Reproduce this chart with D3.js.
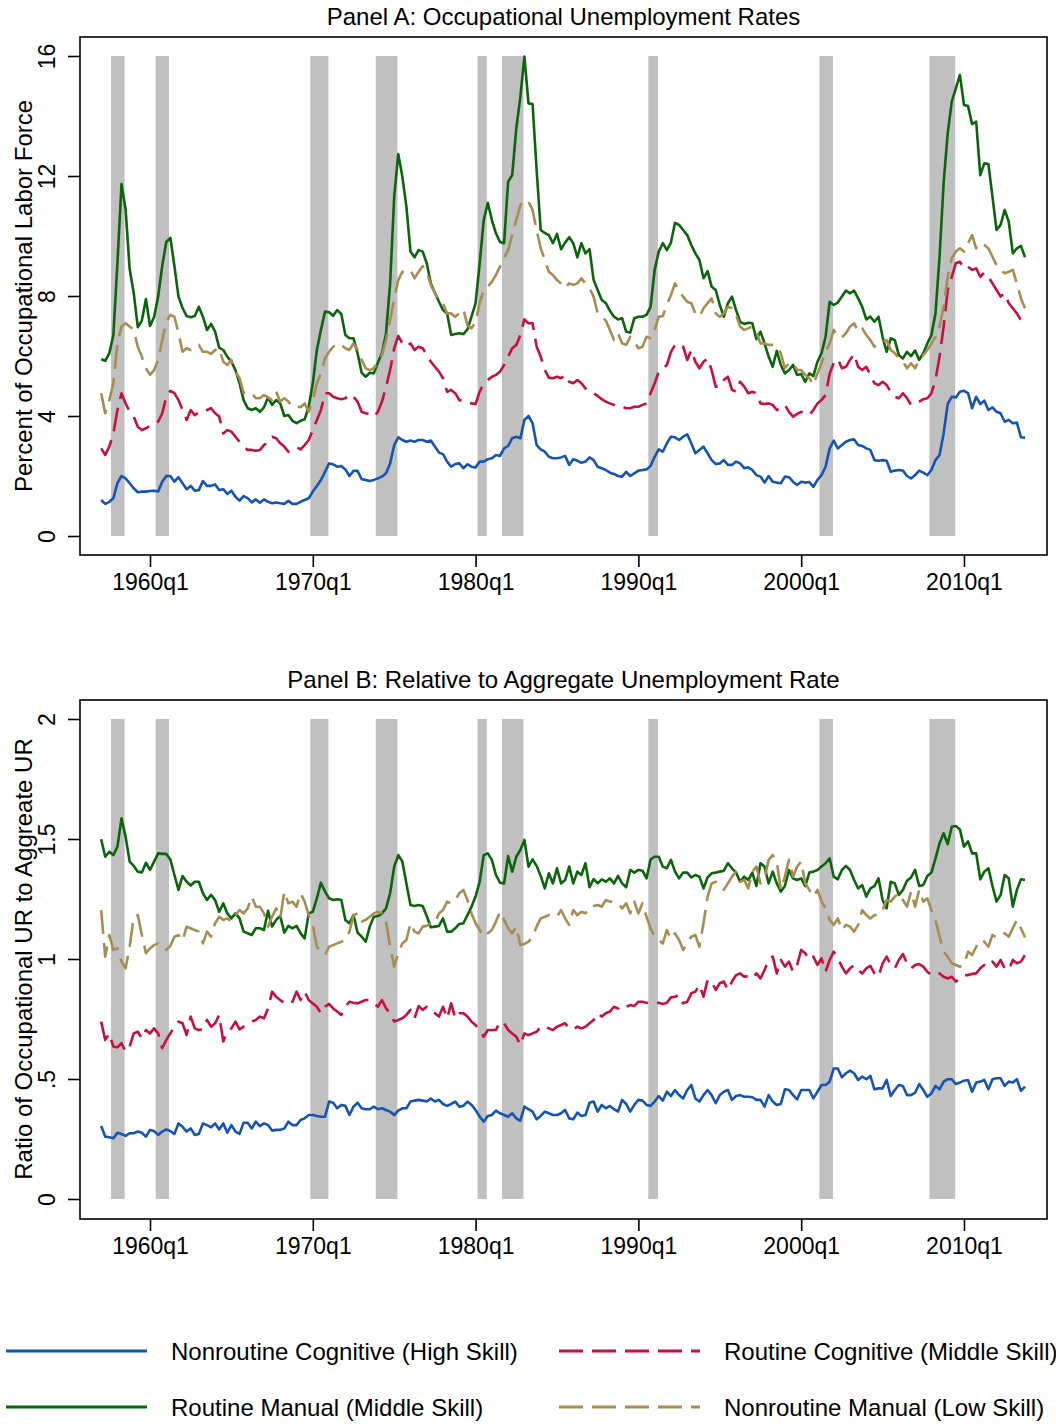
<!DOCTYPE html>
<html><head><meta charset="utf-8">
<script src="https://cdn.jsdelivr.net/npm/d3@7"></script>
<style>
body{margin:0;background:#fff}
svg{display:block}
text{font-family:"Liberation Sans",Arial,Helvetica,sans-serif;fill:#000}
</style>
</head><body>
<svg id="chart" width="1056" height="1424"></svg>
<script>
// ---------------- DATA ----------------
const startYear = 1957; // first observation 1957q1, quarterly through 2013q4
const seriesLabels = ["Nonroutine Cognitive (High Skill)", "Routine Cognitive (Middle Skill)", "Routine Manual (Middle Skill)", "Nonroutine Manual (Low Skill)"];
const xTickYears = [1960, 1970, 1980, 1990, 2000, 2010];
const xTickLabels = ["1960q1", "1970q1", "1980q1", "1990q1", "2000q1", "2010q1"];
const yTicksA = [0, 4, 8, 12, 16];
const yTickLabelsA = ["0", "4", "8", "12", "16"];
const yTicksB = [0, 0.5, 1, 1.5, 2];
const yTickLabelsB = ["0", ".5", "1", "1.5", "2"];
const recessionStart = [1957.60, 1960.35, 1969.85, 1973.87, 1980.12, 1981.62, 1990.61, 2001.12, 2007.88];
const recessionEnd   = [1958.44, 1961.17, 1970.96, 1975.20, 1980.69, 1982.94, 1991.20, 2001.96, 2009.46];

// Panel A: occupational unemployment rates (percent)
const nonroutineCognitiveA = [
1.2,1.07,1.14,1.26,1.76,2.0,1.92,1.76,1.59,1.46, 1.48,1.48,1.5,1.51,1.48,1.81,2.0,2.0,1.81,1.96,
1.76,1.56,1.67,1.51,1.53,1.83,1.67,1.67,1.72,1.53, 1.56,1.4,1.51,1.31,1.18,1.33,1.26,1.12,1.22,1.11,
1.22,1.14,1.09,1.12,1.09,1.07,1.17,1.07,1.07,1.14, 1.2,1.26,1.48,1.67,1.87,2.14,2.42,2.39,2.31,2.33,
2.22,2.0,2.17,2.17,1.89,1.87,1.83,1.87,1.92,1.98, 2.09,2.42,3.03,3.29,3.2,3.14,3.18,3.14,3.2,
3.2,3.14,3.18,2.98,2.78,2.73,2.48,2.31,2.4,2.42, 2.26,2.39,2.31,2.28,2.48,2.48,2.56,2.59,2.7,2.67,
2.92,3.0,3.26,3.31,3.26,3.87,4.0,3.76,3.03,2.89, 2.81,2.64,2.59,2.59,2.62,2.67,2.37,2.56,2.51,2.44,
2.48,2.62,2.53,2.31,2.26,2.2,2.11,2.07,2.0,1.98, 2.14,2.0,2.09,2.18,2.2,2.22,2.33,2.64,2.89,2.81,
3.09,3.31,3.29,3.2,3.31,3.39,3.09,2.76,2.87,2.98, 2.76,2.53,2.4,2.42,2.53,2.37,2.37,2.48,
2.42,2.26,2.29,2.2,2.03,1.98,1.78,2.0,1.81,1.78, 1.76,1.98,1.96,1.81,1.7,1.81,1.78,1.8,1.64,1.87,
2.03,2.31,2.92,3.18,2.92,3.03,3.14,3.2,3.22,3.03, 3.0,2.92,2.87,2.53,2.51,2.53,2.51,2.14,2.18,2.2,
2.18,2.0,1.92,2.03,2.18,2.11,2.03,2.2,2.53,2.7, 3.42,4.4,4.64,4.62,4.81,4.84,4.76,4.26,4.64,4.4,
4.51,4.2,4.29,4.14,4.09,3.81,3.87,3.76,3.78,3.29, 3.28];
const routineCognitiveA = [
2.92,2.7,2.98,3.42,4.2,4.76,4.42,4.14,3.98,3.64, 3.53,3.59,3.67,3.7,3.81,4.09,4.64,4.84,4.76,4.53,
4.2,3.87,4.2,4.03,4.11,4.11,4.2,4.26,4.09,3.98, 3.42,3.53,3.48,3.31,3.14,2.98,2.87,2.87,2.84,2.87,
3.03,3.14,3.31,3.26,3.09,2.98,2.81,2.89,2.96,2.89, 3.03,3.2,3.53,3.87,4.2,4.76,4.76,4.64,4.59,4.56,
4.59,4.73,4.64,4.48,4.14,4.09,4.07,3.98,4.14,4.48, 4.98,5.53,6.26,6.67,6.42,6.31,6.42,6.2,6.31,
6.26,6.03,5.81,5.64,5.48,5.26,4.81,4.87,4.76,4.53, 4.51,4.44,4.42,4.4,4.81,5.09,5.2,5.31,5.37,5.48,
5.7,5.98,6.26,6.37,6.7,7.22,7.09,7.09,6.31,5.98, 5.53,5.28,5.26,5.31,5.26,5.37,5.14,5.09,5.2,5.09,
4.92,4.81,4.76,4.67,4.56,4.48,4.42,4.37,4.31,4.31, 4.26,4.26,4.31,4.31,4.37,4.42,4.76,5.09,5.48,5.59,
5.7,6.14,6.37,6.42,6.31,5.87,6.2,5.81,5.59,5.81, 5.92,5.53,4.98,4.98,5.2,5.31,4.87,4.81,
5.14,4.98,4.76,4.81,4.76,4.42,4.4,4.42,4.37,4.2, 4.26,4.37,4.14,3.98,4.07,4.14,4.09,4.03,4.2,4.42,
4.53,4.7,5.42,5.76,5.9,5.59,5.64,5.87,6.07,5.64, 5.53,5.64,5.37,5.09,5.03,5.14,5.03,4.81,4.64,4.59,
4.76,4.59,4.37,4.42,4.48,4.56,4.59,4.76,5.2,5.98, 6.98,8.2,8.64,9.09,9.14,8.92,8.98,8.87,8.92,8.64,
8.78,8.64,8.42,8.2,7.98,8.09,7.76,7.59,7.42,7.2, 7.07];
const routineManualA = [
5.89,5.84,6.09,6.7,9.1,11.73,10.9,8.9,8.1,6.96, 7.18,7.9,7.0,7.3,7.98,9.0,9.8,9.94,9.0,7.98,
7.6,7.33,7.29,7.33,7.64,7.31,6.87,7.07,6.81,6.28, 6.2,5.98,5.81,5.53,5.09,4.53,4.26,4.2,4.26,4.14,
4.29,4.62,4.37,4.53,4.42,4.0,4.03,3.84,3.76,3.84, 3.89,4.31,5.09,6.2,6.87,7.48,7.46,7.34,7.53,7.4,
6.7,6.59,6.59,6.09,5.44,5.31,5.44,5.42,5.78,6.09, 6.76,8.42,11.3,12.73,11.98,10.98,9.48,9.29,9.53,
9.48,9.09,8.42,8.11,7.81,7.53,7.42,6.7,6.73,6.76, 6.73,6.89,7.31,7.76,9.09,10.53,11.11,10.53,10.09,9.8,
9.76,11.81,12.03,13.59,14.64,15.98,14.42,14.4,12.2,10.2, 10.1,10.03,9.76,10.07,9.56,9.78,9.96,9.76,9.29,9.76,
9.42,9.56,8.53,8.2,7.87,7.76,7.51,7.31,7.22,7.26, 6.81,6.78,7.26,7.31,7.31,7.37,7.64,8.87,9.48,9.76,
9.53,9.78,10.44,10.37,10.2,10.03,9.7,9.42,9.2,8.59, 8.83,8.31,8.2,7.7,7.31,7.76,7.98,7.53,
7.14,7.07,7.11,7.09,6.56,6.81,6.42,5.98,5.64,6.17, 5.7,5.42,5.53,5.7,5.37,5.4,5.14,5.42,5.33,5.81,
6.09,6.64,7.81,7.7,7.78,7.98,8.18,8.09,8.18,7.92, 7.64,7.22,7.31,7.14,7.31,6.64,6.14,6.59,6.53,6.03,
5.92,6.14,6.0,6.18,5.87,6.09,6.42,6.7,7.42,9.31, 11.76,13.42,14.48,14.92,15.37,14.37,14.33,13.73,13.81,12.03,
12.42,12.4,11.31,10.2,10.37,10.87,10.48,9.42,9.59,9.67, 9.29];
const nonroutineManualA = [
4.76,4.09,4.53,5.09,6.42,6.98,7.09,6.98,6.87,6.31, 5.98,5.59,5.37,5.53,5.87,6.53,7.14,7.37,7.31,6.76,
6.14,6.26,6.2,6.29,6.37,6.14,6.14,6.07,6.2,6.26, 5.81,5.7,5.87,5.48,5.26,4.76,4.81,4.76,4.59,4.59,
4.7,4.62,4.53,4.81,4.48,4.59,4.48,4.31,4.33,4.29, 4.42,4.14,4.53,5.09,5.42,5.92,6.14,6.31,6.42,6.37,
6.26,6.2,6.42,6.2,5.87,5.59,5.53,5.59,5.81,6.03, 6.53,7.2,7.92,8.53,8.81,8.81,8.87,8.59,8.81,
9.0,8.81,8.37,8.09,7.87,7.76,7.42,7.42,7.31,7.42, 7.56,7.03,6.92,7.14,7.76,8.2,8.31,8.48,8.7,8.98,
9.26,9.53,10.03,10.53,11.03,11.2,11.14,10.87,10.2,9.59, 9.2,8.81,8.7,8.53,8.42,8.26,8.42,8.37,8.42,8.59,
8.42,8.26,7.98,7.42,7.31,7.18,6.87,6.53,6.76,6.42, 6.37,6.64,6.48,6.26,6.31,6.64,6.59,6.87,7.31,7.33,
7.7,8.03,8.42,8.14,7.98,7.81,7.76,7.42,7.31,7.59, 7.76,7.92,7.42,7.31,7.42,7.64,7.59,7.37,
6.98,6.87,6.92,6.98,6.81,6.42,6.42,6.37,6.37,6.33, 6.09,5.59,5.76,5.76,5.53,5.53,5.37,5.26,5.03,5.42,
5.76,6.14,6.42,6.87,6.64,6.62,6.76,6.98,7.09,6.81, 6.92,6.7,6.53,6.31,6.37,6.48,6.53,6.2,6.09,5.92,
5.81,5.59,5.76,5.59,5.87,6.03,6.2,6.42,6.64,6.98, 7.64,8.64,9.26,9.48,9.59,9.48,9.76,10.03,9.59,9.76,
9.7,9.59,9.31,9.03,8.87,8.76,8.81,8.87,8.42,7.92, 7.59];

// Panel B: ratio of occupational UR to aggregate UR
const nonroutineCognitiveB = [
0.304,0.26,0.257,0.253,0.276,0.271,0.263,0.274,0.274,0.281, 0.276,0.26,0.288,0.283,0.267,0.281,0.29,0.283,0.271,0.315,
0.301,0.281,0.294,0.267,0.271,0.315,0.308,0.299,0.315,0.29, 0.315,0.276,0.308,0.281,0.271,0.318,0.318,0.294,0.322,0.304,
0.315,0.308,0.285,0.288,0.288,0.294,0.322,0.308,0.308,0.329, 0.336,0.35,0.35,0.346,0.343,0.343,0.406,0.401,0.378,0.392,
0.388,0.35,0.385,0.401,0.378,0.374,0.374,0.385,0.374,0.378, 0.371,0.364,0.35,0.368,0.378,0.378,0.406,0.41,0.413,
0.41,0.406,0.419,0.406,0.413,0.396,0.388,0.396,0.406,0.385, 0.388,0.406,0.392,0.371,0.343,0.322,0.346,0.35,0.368,0.357,
0.35,0.343,0.357,0.336,0.326,0.385,0.374,0.364,0.332,0.346, 0.364,0.357,0.35,0.35,0.357,0.371,0.336,0.332,0.36,0.346,
0.35,0.401,0.406,0.364,0.392,0.378,0.388,0.374,0.364,0.413, 0.396,0.364,0.392,0.413,0.41,0.392,0.388,0.406,0.429,0.41,
0.447,0.429,0.454,0.433,0.419,0.454,0.475,0.419,0.406,0.433, 0.454,0.433,0.399,0.433,0.447,0.454,0.413,0.429,
0.433,0.426,0.426,0.424,0.413,0.413,0.385,0.433,0.406,0.392, 0.396,0.457,0.454,0.433,0.415,0.454,0.454,0.454,0.419,0.447,
0.475,0.475,0.489,0.544,0.544,0.507,0.524,0.535,0.524,0.496, 0.51,0.499,0.513,0.457,0.461,0.461,0.496,0.429,0.454,0.475,
0.471,0.433,0.433,0.443,0.479,0.454,0.426,0.44,0.471,0.457, 0.489,0.499,0.499,0.479,0.485,0.493,0.496,0.447,0.485,0.489,
0.496,0.457,0.499,0.503,0.503,0.471,0.489,0.485,0.499,0.451, 0.468];
const routineCognitiveB = [
0.739,0.663,0.69,0.635,0.632,0.649,0.614,0.635,0.69,0.697, 0.669,0.704,0.69,0.711,0.69,0.628,0.663,0.69,0.718,0.739,
0.732,0.683,0.76,0.711,0.704,0.707,0.746,0.718,0.732,0.767, 0.656,0.697,0.711,0.739,0.707,0.718,0.729,0.739,0.746,0.76,
0.753,0.794,0.864,0.843,0.829,0.818,0.829,0.822,0.864,0.829, 0.864,0.829,0.815,0.801,0.774,0.801,0.813,0.794,0.781,0.767,
0.801,0.822,0.818,0.815,0.822,0.829,0.829,0.815,0.801,0.829, 0.794,0.774,0.739,0.746,0.753,0.767,0.788,0.753,0.804,
0.788,0.801,0.781,0.774,0.76,0.801,0.753,0.815,0.753,0.774, 0.774,0.76,0.739,0.725,0.704,0.676,0.704,0.704,0.704,0.739,
0.732,0.704,0.69,0.676,0.642,0.69,0.683,0.69,0.697,0.718, 0.721,0.711,0.704,0.718,0.725,0.732,0.711,0.707,0.718,0.711,
0.718,0.732,0.746,0.774,0.76,0.774,0.781,0.801,0.794,0.808, 0.801,0.808,0.804,0.822,0.822,0.818,0.815,0.813,0.818,0.813,
0.818,0.84,0.843,0.85,0.815,0.822,0.857,0.864,0.892,0.843, 0.913,0.906,0.871,0.899,0.906,0.871,0.906,0.933,
0.94,0.926,0.929,0.919,0.94,0.919,0.954,0.996,1.01,0.94, 0.996,0.968,0.989,0.947,0.975,1.038,1.024,0.996,1.01,0.975,
1.003,0.947,0.996,1.031,1.003,0.968,0.94,0.961,0.975,0.954, 0.94,0.961,0.971,0.94,0.926,0.982,1.01,0.975,0.961,0.996,
1.021,0.982,0.961,0.975,0.979,0.968,0.947,0.933,0.94,0.94, 0.926,0.919,0.926,0.906,0.919,0.933,0.933,0.938,0.94,0.961,
0.975,0.968,0.989,0.968,0.996,0.961,0.954,0.996,0.982,0.989, 1.017];
const routineManualB = [
1.499,1.426,1.447,1.433,1.468,1.586,1.51,1.406,1.388,1.364, 1.36,1.401,1.371,1.406,1.44,1.438,1.438,1.415,1.35,1.288,
1.346,1.322,1.306,1.322,1.322,1.274,1.246,1.267,1.246,1.197, 1.232,1.19,1.169,1.19,1.169,1.114,1.107,1.1,1.128,1.128,
1.121,1.201,1.135,1.163,1.179,1.11,1.138,1.128,1.138,1.107, 1.086,1.19,1.197,1.253,1.318,1.281,1.253,1.246,1.249,1.246,
1.163,1.149,1.183,1.11,1.093,1.072,1.135,1.176,1.179,1.19, 1.211,1.274,1.385,1.433,1.406,1.315,1.225,1.221,1.225,
1.221,1.179,1.132,1.135,1.138,1.169,1.114,1.114,1.128,1.146, 1.149,1.183,1.218,1.26,1.322,1.433,1.44,1.413,1.35,1.318,
1.315,1.429,1.364,1.426,1.454,1.496,1.385,1.415,1.388,1.346, 1.294,1.357,1.315,1.378,1.315,1.329,1.385,1.315,1.364,1.35,
1.399,1.299,1.333,1.315,1.332,1.322,1.336,1.315,1.346,1.315, 1.299,1.371,1.36,1.371,1.368,1.336,1.415,1.426,1.426,1.385,
1.378,1.413,1.364,1.336,1.36,1.36,1.34,1.35,1.343,1.294, 1.34,1.357,1.36,1.364,1.368,1.399,1.378,1.36,
1.322,1.343,1.329,1.36,1.304,1.399,1.385,1.315,1.364,1.315, 1.281,1.304,1.371,1.336,1.329,1.336,1.304,1.36,1.364,1.371,
1.385,1.399,1.419,1.343,1.332,1.371,1.388,1.371,1.329,1.294, 1.308,1.26,1.294,1.304,1.336,1.246,1.211,1.322,1.315,1.267,
1.288,1.326,1.34,1.371,1.304,1.308,1.346,1.36,1.419,1.482, 1.524,1.479,1.551,1.554,1.54,1.468,1.49,1.44,1.44,1.332,
1.364,1.378,1.304,1.239,1.267,1.35,1.336,1.218,1.288,1.332, 1.329];
const nonroutineManualB = [
1.204,1.01,1.1,1.038,1.044,0.989,0.961,1.051,1.176,1.183, 1.1,1.024,1.044,1.058,1.065,1.044,1.038,1.054,1.093,1.1,
1.076,1.135,1.128,1.121,1.114,1.065,1.114,1.093,1.149,1.176, 1.163,1.169,1.156,1.183,1.204,1.19,1.211,1.26,1.218,1.218,
1.19,1.135,1.176,1.211,1.169,1.281,1.232,1.239,1.218,1.274, 1.239,1.183,1.142,1.051,1.031,1.017,1.051,1.058,1.065,1.072,
1.079,1.114,1.183,1.19,1.156,1.163,1.176,1.19,1.197,1.19, 1.156,1.051,0.968,1.024,1.065,1.079,1.149,1.114,1.107,
1.135,1.138,1.149,1.151,1.19,1.204,1.239,1.232,1.246,1.274, 1.288,1.246,1.19,1.149,1.121,1.093,1.107,1.121,1.156,1.197,
1.163,1.128,1.107,1.135,1.058,1.063,1.072,1.093,1.135,1.169, 1.176,1.183,1.179,1.176,1.204,1.169,1.142,1.204,1.183,1.197,
1.19,1.218,1.221,1.225,1.218,1.246,1.239,1.239,1.232,1.211, 1.232,1.19,1.239,1.19,1.232,1.176,1.128,1.093,1.079,1.065,
1.121,1.083,1.107,1.079,1.038,1.065,1.093,1.1,1.051,1.149, 1.26,1.315,1.322,1.304,1.288,1.315,1.343,1.364,
1.322,1.329,1.294,1.364,1.385,1.315,1.336,1.413,1.433,1.406, 1.288,1.343,1.413,1.343,1.385,1.406,1.315,1.288,1.26,1.288,
1.239,1.211,1.163,1.142,1.169,1.121,1.142,1.135,1.114,1.142, 1.204,1.183,1.169,1.183,1.183,1.204,1.246,1.239,1.26,1.274,
1.246,1.218,1.281,1.218,1.288,1.239,1.253,1.204,1.163,1.093, 1.031,1.01,0.982,0.975,0.968,0.975,1.031,1.017,1.051,1.079,
1.072,1.051,1.1,1.09,1.093,1.107,1.093,1.128,1.163,1.128, 1.09];

// ---------------- STYLE ----------------
const colors = ["#1654b4", "#c8103e", "#0b650b", "#a68d52"];
const dashes = [null, "24,9", null, "24,9"];
const TICK_FONT = 23;
const TEXT_FONT = 24;

const svg = d3.select("#chart");
const x = d3.scaleLinear().domain([1955.70, 2015.10]).range([80, 1047]);
const dates = routineManualA.map((_, i) => startYear + i / 4);

function drawPanel(opts) {
  const { frameTop, frameBottom, y, yTicks, yTickLabels, title, yTitle, series } = opts;
  const g = svg.append("g");
  g.append("rect").attr("x", 80).attr("y", frameTop).attr("width", 967).attr("height", frameBottom - frameTop)
    .attr("fill", "#fff").attr("stroke", "#000").attr("stroke-width", 1.6);
  const [y0, y1] = y.domain();
  g.selectAll("rect.rec").data(recessionStart.map((s, i) => [s, recessionEnd[i]])).join("rect")
    .attr("class", "rec")
    .attr("x", d => x(d[0])).attr("width", d => x(d[1]) - x(d[0]))
    .attr("y", y(y1)).attr("height", y(y0) - y(y1)).attr("fill", "#c0c0c0");
  const line = d3.line().x((d, i) => x(dates[i])).y(d => y(d));
  series.forEach((s, k) => {
    g.append("path").datum(s).attr("d", line).attr("fill", "none")
      .attr("stroke", colors[k]).attr("stroke-width", 2.6)
      .attr("stroke-linejoin", "round")
      .attr("stroke-dasharray", dashes[k]);
  });
  const ya = g.append("g").attr("transform", "translate(80,0)")
    .call(d3.axisLeft(y).tickValues(yTicks).tickSize(12).tickFormat((d, i) => yTickLabels[i]));
  ya.select(".domain").remove();
  ya.selectAll(".tick line").attr("stroke-width", 1.6);
  ya.selectAll(".tick text").attr("font-size", TICK_FONT).attr("font-family", null)
    .attr("x", null).attr("text-anchor", "middle")
    .attr("transform", "translate(-33,0) rotate(-90)").attr("dy", "0.36em");
  const xa = g.append("g").attr("transform", `translate(0,${frameBottom})`)
    .call(d3.axisBottom(x).tickValues(xTickYears).tickSize(12).tickFormat((d, i) => xTickLabels[i]));
  xa.select(".domain").remove();
  xa.selectAll(".tick line").attr("stroke-width", 1.6);
  xa.selectAll(".tick text").attr("font-size", TICK_FONT).attr("font-family", null).attr("y", 35).attr("dy", null);
  g.append("text").attr("x", 563.5).attr("y", frameTop - 12).attr("text-anchor", "middle")
    .attr("font-size", TEXT_FONT).text(title);
  const ymid = (y(y0) + y(y1)) / 2;
  g.append("text").attr("transform", `translate(32,${ymid}) rotate(-90)`).attr("text-anchor", "middle")
    .attr("font-size", TEXT_FONT).text(yTitle);
}

drawPanel({
  frameTop: 37, frameBottom: 555,
  y: d3.scaleLinear().domain([0, 16]).range([536, 56]),
  yTicks: yTicksA, yTickLabels: yTickLabelsA,
  title: "Panel A: Occupational Unemployment Rates",
  yTitle: "Percent of Occupational Labor Force",
  series: [nonroutineCognitiveA, routineCognitiveA, routineManualA, nonroutineManualA]
});
drawPanel({
  frameTop: 700, frameBottom: 1219,
  y: d3.scaleLinear().domain([0, 2]).range([1199, 719]),
  yTicks: yTicksB, yTickLabels: yTickLabelsB,
  title: "Panel B: Relative to Aggregate Unemployment Rate",
  yTitle: "Ratio of Occupational UR to Aggreate UR",
  series: [nonroutineCognitiveB, routineCognitiveB, routineManualB, nonroutineManualB]
});

// legend
const legendLine = [[6, 147], [559, 700], [6, 147], [559, 700]];
const legendY = [1351, 1351, 1407, 1407];
const legendTextX = [171, 724, 171, 724];
const leg = svg.append("g");
seriesLabels.forEach((lab, k) => {
  leg.append("line").attr("x1", legendLine[k][0]).attr("x2", legendLine[k][1])
    .attr("y1", legendY[k]).attr("y2", legendY[k])
    .attr("stroke", colors[k]).attr("stroke-width", 3).attr("stroke-dasharray", dashes[k]);
  leg.append("text").attr("x", legendTextX[k]).attr("y", legendY[k] + 8.5).attr("font-size", TEXT_FONT).text(lab);
});
</script>
</body></html>
